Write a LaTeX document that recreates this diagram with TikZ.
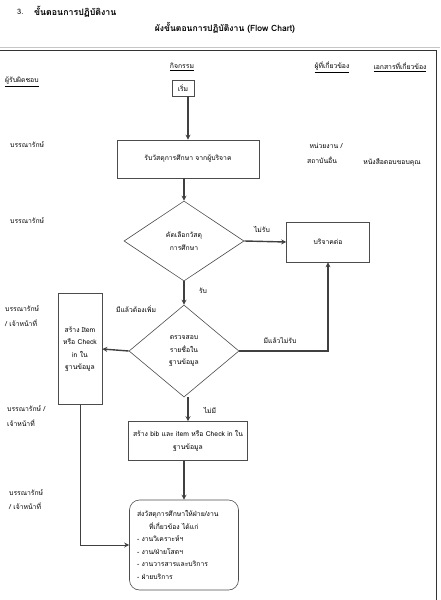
\documentclass[tikz,border=0pt]{standalone}
\usepackage{fontspec}
\newfontfamily\thaifont[Script=Thai]{Loma}
\usetikzlibrary{positioning,arrows.meta,shapes.geometric}

\begin{document}
\begin{tikzpicture}[x=1pt,y=-1pt,
  every node/.style={font=\thaifont\fontsize{6.8}{12.5}\selectfont,inner sep=1pt},
  box/.style={draw=gray!60!black,line width=0.6pt,align=center},
  choice/.style={draw=gray!60!black,line width=0.6pt,diamond,align=center,inner sep=0pt},
  flow/.style={-{Stealth[length=5pt,width=5pt]},line width=1.4pt,black!75},
  role/.style={anchor=west,align=left}
]
  \useasboundingbox (0,0) rectangle (440,600);

  % heading
  \node[anchor=west,font=\thaifont\fontsize{7.5}{9}\selectfont] (num) at (16,12) {3.};
  \node[anchor=west,font=\thaifont\bfseries\fontsize{8.8}{10}\selectfont] (ttl) at (33,12) {ขั้นตอนการปฏิบัติงาน};
  \node[font=\thaifont\bfseries\fontsize{8.6}{10}\selectfont] (sub) at (225,28) {ผังขั้นตอนการปฏิบัติงาน (Flow Chart)};
  \draw[gray!45,line width=1pt] (0,47) -- (440,47);
  \draw[black!80,line width=0.8pt] (0,50) -- (436,50) -- (436,600);

  % column heads
  \node (hact) at (182,67) {\underline{กิจกรรม}};
  \node (hwho) at (332,67) {\underline{ผู้ที่เกี่ยวข้อง}};
  \node (hdoc) at (400,67) {\underline{เอกสารที่เกี่ยวข้อง}};
  \node[role] (hresp) at (4,82) {\underline{ผู้รับผิดชอบ}};

  % responsible persons
  \node[role] (r1) at (9,145) {บรรณารักษ์};
  \node[role] (r2) at (9,221) {บรรณารักษ์};
  \node[role] (r3) at (4,309) {บรรณารักษ์};
  \node[role] (r3b) at (4,323) {/ เจ้าหน้าที่};
  \node[role] (r4) at (6,409) {บรรณารักษ์ /};
  \node[role] (r4b) at (6,423) {เจ้าหน้าที่};
  \node[role] (r5) at (8,493) {บรรณารักษ์};
  \node[role] (r5b) at (8,506) {/ เจ้าหน้าที่};

  % related
  \node (who1) at (326,146) {หน่วยงาน /};
  \node (who2) at (322,160) {สถาบันอื่น};
  \node (doc1) at (392,163) {หนังสือตอบขอบคุณ};

  % flow
  \node[box,minimum width=22,minimum height=16] (start) at (183,88) {เริ่ม};
  \node[box,minimum width=142,minimum height=38] (recv) at (188,159) {รับวัสดุการศึกษา จากผู้บริจาค};
  \node[choice,minimum width=120,minimum height=80] (sel) at (184,241) {คัดเลือกวัสดุ\\การศึกษา};
  \node[box,minimum width=83,minimum height=40] (donate) at (328,242) {บริจาคต่อ};
  \node[choice,minimum width=110,minimum height=92] (chk) at (184,351) {ตรวจสอบ\\รายชื่อใน\\ฐานข้อมูล};
  \node[box,minimum width=44,minimum height=111] (itm) at (80,349) {สร้าง Item\\หรือ Check\\in ใน\\ฐานข้อมูล};
  \node[box,minimum width=119,minimum height=39] (bib) at (188,441) {สร้าง bib และ item หรือ Check in ใน\\ฐานข้อมูล};
  \node[box,rounded corners=10pt,minimum width=109,minimum height=90,text width=94,align=left,
        font=\thaifont\fontsize{6.8}{12.5}\selectfont] (send) at (184,545)
    {ส่งวัสดุการศึกษาให้ฝ่าย/งาน\\\hspace*{12pt}ที่เกี่ยวข้อง ได้แก่\\- งานวิเคราะห์ฯ\\- งาน/ฝ่ายโสตฯ\\- งานวารสารและบริการ\\- ฝ่ายบริการ};

  \foreach \a/\b in {start/recv,recv/sel,sel/chk,chk/bib,bib/send}
    \draw[flow] (\b.north |- \a.south) -- (\b.north);
  \draw[flow] (sel.east) -- (donate.west);
  \draw[flow] (chk.east) -| (donate.south);
  \draw[flow] (chk.west) -- (itm.east);
  \draw[flow,line width=0.8pt] (itm.south) |- (send.west);

  % labels
  \node (lno) at (262,229) {ไม่รับ};
  \node (lyes) at (203,291) {รับ};
  \node (lmore) at (136,309) {มีแล้วต้องเพิ่ม};
  \node (lhave) at (280,340) {มีแล้วไม่รับ};
  \node (lnone) at (210,410) {ไม่มี};
\end{tikzpicture}
\end{document}
